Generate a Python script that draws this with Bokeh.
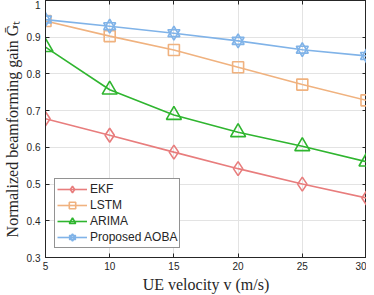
from bokeh.plotting import figure
from bokeh.models import Legend, LegendItem, Range1d, FixedTicker, LinearAxis
from bokeh.embed import file_html
from bokeh.resources import INLINE

velocity = [5, 10, 15, 20, 25, 30]
ekf = [0.678, 0.633, 0.587, 0.542, 0.500, 0.462]
lstm = [0.944, 0.903, 0.865, 0.818, 0.771, 0.728]
arima = [0.873, 0.757, 0.688, 0.641, 0.603, 0.561]
aoba = [0.948, 0.930, 0.911, 0.890, 0.866, 0.849]
x_ticks = [5, 10, 15, 20, 25, 30]
y_ticks = [0.3, 0.4, 0.5, 0.6, 0.7, 0.8, 0.9, 1.0]

c_ekf = "#E87D7D"
c_lstm = "#F0B27F"
c_arima = "#2FB52F"
c_aoba = "#80B3E8"
dark = "#262626"

p = figure(width=366, height=295, output_backend="svg", toolbar_location=None,
           x_range=Range1d(5, 30), y_range=Range1d(0.3, 1.0),
           min_border_left=0, min_border_right=0, min_border_top=0, min_border_bottom=0)

p.outline_line_color = dark
p.outline_line_width = 1
p.background_fill_color = "white"
p.border_fill_color = "white"

for ax in (p.xaxis, p.yaxis):
    ax.major_tick_in = 4
    ax.major_tick_out = 0
    ax.minor_tick_in = 0
    ax.minor_tick_out = 0
    ax.axis_line_color = dark
    ax.major_tick_line_color = dark
    ax.major_label_text_font = "Liberation Sans"
    ax.major_label_text_font_size = "10px"
    ax.major_label_text_color = dark
    ax.axis_label_text_font = "Liberation Serif"
    ax.axis_label_text_font_style = "normal"
    ax.axis_label_text_color = dark

p.xaxis.axis_label_text_font_size = "16px"
p.yaxis.axis_label_text_font_size = "16px"
p.xaxis.ticker = FixedTicker(ticks=x_ticks)
p.yaxis.ticker = FixedTicker(ticks=y_ticks)
p.yaxis.major_label_overrides = {1.0: "1"}
p.xaxis.axis_label = "UE velocity v (m/s)"
p.yaxis.axis_label = "Normalized beamforming gain Ḡₜ"
p.xaxis.major_label_standoff = 4
p.yaxis.major_label_standoff = 5
p.xaxis.axis_label_standoff = 3
p.yaxis.axis_label_standoff = 3

# inward ticks on the right and top sides
rax = LinearAxis(ticker=FixedTicker(ticks=y_ticks),
                 major_label_overrides={t: "" for t in y_ticks},
                 major_tick_in=4, major_tick_out=0, minor_tick_in=0, minor_tick_out=0,
                 axis_line_color=dark, major_tick_line_color=dark,
                 major_label_standoff=0)
p.add_layout(rax, "right")
tax = LinearAxis(ticker=FixedTicker(ticks=x_ticks),
                 major_label_overrides={t: "" for t in x_ticks},
                 major_tick_in=4, major_tick_out=0, minor_tick_in=0, minor_tick_out=0,
                 axis_line_color=dark, major_tick_line_color=dark,
                 major_label_standoff=0)
p.add_layout(tax, "above")

p.grid.grid_line_color = "#E3E3E3"
p.grid.grid_line_width = 1
p.xgrid.ticker = FixedTicker(ticks=x_ticks)
p.ygrid.ticker = FixedTicker(ticks=y_ticks)

lw = 1.6
items = []

l1 = p.line(velocity, ekf, line_color=c_ekf, line_width=lw)
m1 = p.scatter(velocity, ekf, marker="diamond", size=14, line_color=c_ekf, line_width=lw, fill_color=None)
items.append(LegendItem(label="EKF", renderers=[l1, m1]))

l2 = p.line(velocity, lstm, line_color=c_lstm, line_width=lw)
m2 = p.scatter(velocity, lstm, marker="square", size=11, line_color=c_lstm, line_width=lw, fill_color=None)
items.append(LegendItem(label="LSTM", renderers=[l2, m2]))

l3 = p.line(velocity, arima, line_color=c_arima, line_width=lw)
m3 = p.scatter(velocity, arima, marker="triangle", size=15, line_color=c_arima, line_width=lw, fill_color=None)
items.append(LegendItem(label="ARIMA", renderers=[l3, m3]))

l4 = p.line(velocity, aoba, line_color=c_aoba, line_width=lw)
m4a = p.scatter(velocity, aoba, marker="triangle", size=12, line_color=c_aoba, line_width=lw, fill_color=None)
m4b = p.scatter(velocity, aoba, marker="inverted_triangle", size=12, line_color=c_aoba, line_width=lw, fill_color=None)
items.append(LegendItem(label="Proposed AOBA", renderers=[l4, m4a, m4b]))

legend = Legend(items=items, location="bottom_left")
legend.label_text_font = "Liberation Sans"
legend.label_text_font_size = "12px"
legend.label_text_color = dark
legend.border_line_color = dark
legend.border_line_width = 1
legend.background_fill_alpha = 1
legend.margin = 9
legend.padding = 2
legend.spacing = 0
legend.glyph_width = 30
legend.glyph_height = 16
legend.label_standoff = 3
legend.label_height = 16
p.add_layout(legend)

open("out.html", "w").write(file_html(p, INLINE))
